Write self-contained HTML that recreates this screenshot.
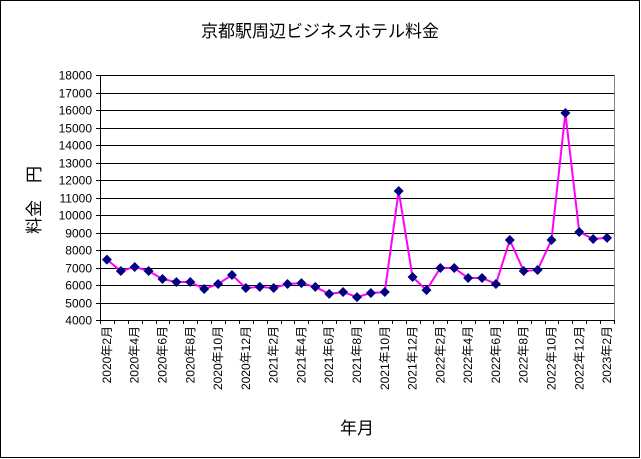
<!DOCTYPE html>
<html><head><meta charset="utf-8"><style>
html,body{margin:0;padding:0;background:#fff}
svg{display:block}
text{font-family:"Liberation Sans","Noto Sans CJK JP",sans-serif;fill:#000}
</style></head><body>
<svg id="chart" width="641" height="459" viewBox="0 0 641 459" xmlns="http://www.w3.org/2000/svg">
<rect x="0.5" y="0.5" width="639" height="457" fill="#fff" stroke="#000"/>
<text x="320" y="37" font-size="17" text-anchor="middle">京都駅周辺ビジネスホテル料金</text>
<text transform="translate(40,200) rotate(-90)" font-size="17" text-anchor="middle">料金　円</text>
<text x="357" y="434" font-size="17" text-anchor="middle">年月</text>
<g id="grid"></g><g id="yticks"></g><g id="xticks"></g><g id="series"></g>
</svg>
<script>
const categories=[];
for(let i=0;i<37;i++){const m=i+2;const y=2020+Math.floor((m-1)/12);const mm=((m-1)%12)+1;categories.push(y+"年"+mm+"月");}
const values=[7450,6800,7030,6800,6340,6170,6170,5770,6060,6570,5830,5890,5830,6060,6110,5890,5490,5600,5310,5540,5600,11370,6460,5710,6970,6970,6400,6400,6060,8570,6800,6860,8570,15830,9030,8630,8690];
const yTicks=[4000,5000,6000,7000,8000,9000,10000,11000,12000,13000,14000,15000,16000,17000,18000];
const NS="http://www.w3.org/2000/svg";
const X0=100,X1=614,Y0=320,Y1=75,ymin=4000,ymax=18000;
const bw=(X1-X0)/categories.length;
const yS=v=>Y0-(v-ymin)/(ymax-ymin)*(Y0-Y1);
const xS=i=>X0+bw*(i+0.5);
function el(t,a,p){const e=document.createElementNS(NS,t);for(const k in a)e.setAttribute(k,a[k]);p.appendChild(e);return e;}
const grid=document.getElementById('grid'),yt=document.getElementById('yticks'),xt=document.getElementById('xticks'),se=document.getElementById('series');
yTicks.forEach(v=>{const y=Math.round(yS(v))+0.5;
 const l=el('line',{x1:X0-4,x2:X1,y1:y,y2:y,stroke:'#000','stroke-width':1},grid);
 
 
 const t=el('text',{x:X0-8,y:y+4,'font-size':12,'text-anchor':'end'},yt);t.textContent=v;
 
 
});
const ax=el('line',{x1:X0+0.5,x2:X0+0.5,y1:Y1,y2:Y0,stroke:'#000'},grid);


const rb=el('line',{x1:X1+0.5,x2:X1+0.5,y1:Y1,y2:Y0,stroke:'#808080'},grid);


for(let i=0;i<=categories.length;i++){const x=Math.round(X0+bw*i)+0.5;
 const tk=el('line',{x1:x,x2:x,y1:Y0,y2:Y0+4,stroke:'#000'},xt);
 
 
}
categories.forEach((c,i)=>{if(i%2)return;const x=xS(i);
 const t=el('text',{transform:`translate(${x+4},326) rotate(-90)`,'font-size':12,'text-anchor':'end'},xt);t.textContent=c;
 
 
});
const pts=values.map((v,i)=>xS(i)+','+yS(v)).join(' ');
const pl=el('polyline',{points:pts,fill:'none',stroke:'#ff00ff','stroke-width':2},se);


values.forEach((v,i)=>{const x=xS(i),y=yS(v);
 const p=el('polygon',{points:`${x},${y-5} ${x+5},${y} ${x},${y+5} ${x-5},${y}`,fill:'#000080'},se);
 
 
});
</script>
</body></html>
